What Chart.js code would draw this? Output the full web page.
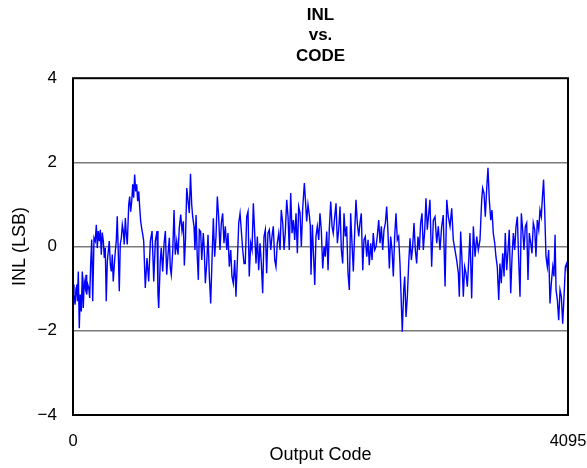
<!DOCTYPE html>
<html>
<head>
<meta charset="utf-8">
<script src="https://cdn.jsdelivr.net/npm/chart.js@4"></script>
<style>
html,body{margin:0;padding:0;background:#fff;}
#wrap{width:587px;height:468px;position:relative;}
</style>
</head>
<body>
<div id="wrap"><canvas id="c" width="587" height="468"></canvas></div>
<script>
const titleLines = ['INL', 'vs.', 'CODE'];
const xTitle = 'Output Code';
const yTitle = 'INL (LSB)';
const xTickValues = [0, 4095];
const yTickValues = [-4, -2, 0, 2, 4];
const gridValues = [-2, 0, 2];

const codes = [0,8,17,25,31,36,44,52,60,69,77,85,93,102,108,113,122,130,138,146,155,163,174,184,193,201,209,218,226,234,242,251,259,267,275,284,292,300,309,317,325,333,342,350,358,366,375,383,391,400,408,416,424,433,441,449,461,469,477,486,494,502,510,519,527,535,544,552,560,568,577,585,598,612,626,640,654,668,681,695,703,709,722,730,742,753,764,775,786,797,805,813,825,836,846,858,869,879,891,902,913,921,931,941,951,962,972,982,990,1001,1009,1018,1028,1037,1045,1056,1065,1078,1086,1095,1106,1117,1128,1139,1150,1161,1172,1183,1194,1205,1216,1227,1238,1249,1260,1272,1282,1293,1305,1315,1326,1338,1348,1359,1371,1382,1392,1404,1415,1425,1437,1448,1458,1470,1481,1492,1503,1514,1525,1536,1547,1558,1569,1580,1591,1602,1613,1624,1636,1646,1657,1669,1679,1690,1702,1713,1723,1735,1746,1756,1768,1779,1789,1801,1812,1823,1834,1845,1856,1867,1878,1889,1900,1914,1923,1933,1944,1955,1963,1969,1980,1988,2000,2010,2021,2033,2043,2054,2066,2077,2087,2099,2110,2120,2132,2143,2153,2165,2176,2187,2198,2209,2220,2231,2242,2253,2264,2275,2286,2297,2308,2319,2330,2341,2352,2364,2374,2385,2397,2407,2418,2430,2441,2451,2463,2474,2484,2496,2507,2517,2529,2540,2551,2562,2573,2584,2595,2606,2617,2628,2639,2650,2661,2672,2683,2694,2705,2716,2724,2736,2744,2755,2766,2777,2788,2799,2810,2821,2832,2843,2854,2865,2876,2887,2898,2910,2920,2931,2943,2953,2967,2981,2995,3009,3022,3036,3050,3063,3078,3092,3105,3119,3133,3146,3160,3174,3188,3196,3207,3218,3229,3240,3251,3262,3274,3284,3298,3312,3326,3340,3353,3367,3381,3389,3400,3411,3422,3433,3444,3456,3466,3477,3489,3499,3510,3522,3532,3543,3555,3566,3576,3588,3599,3609,3621,3632,3643,3654,3665,3676,3687,3698,3709,3720,3731,3742,3753,3764,3775,3787,3797,3808,3820,3830,3841,3853,3863,3874,3882,3893,3902,3913,3924,3935,3946,3957,3969,3979,3988,3996,4007,4018,4029,4040,4051,4062,4073,4084,4095];

const inl = [-0.90,-1.14,-1.38,-0.98,-0.90,-1.30,-0.59,-1.94,-1.14,-1.54,-0.59,-1.46,-0.83,-0.98,-0.67,-1.14,-0.90,-0.98,-1.22,-0.43,0.17,-1.30,0.21,0.13,0.52,-0.03,0.37,0.13,0.40,-0.19,0.33,0.13,-0.27,-0.03,-1.30,-0.35,-0.11,0.13,-0.43,-0.59,-0.19,-0.83,-0.43,-0.11,0.13,0.72,-0.19,-1.06,0.05,0.21,0.52,0.37,0.05,0.68,0.29,0.05,1.00,1.19,0.83,1.08,1.48,1.16,1.71,1.31,1.48,1.08,1.31,0.92,0.60,0.44,0.29,0.13,-0.98,-0.27,-0.83,0.13,0.37,-0.83,0.13,0.37,-1.14,-1.46,-0.35,-0.03,-0.59,0.05,0.37,-0.67,-0.19,0.21,-0.51,-0.67,-0.11,0.87,-0.19,0.13,-0.19,0.44,0.76,0.37,0.60,-0.45,0.21,1.39,1.10,0.80,1.73,1.00,0.71,0.48,-0.08,0.75,-0.24,-0.79,0.40,0.36,-0.32,0.32,-0.08,-0.87,-0.40,0.28,-0.71,-1.35,-0.32,0.67,-0.24,0.24,1.19,0.71,-0.08,0.56,0.79,0.08,0.48,-0.08,0.32,-0.48,-0.08,-0.71,-0.87,-0.32,-1.19,-0.40,0.56,0.79,0.40,-0.08,-0.40,-0.40,0.71,0.83,-0.71,0.08,-0.08,1.03,0.32,-0.40,0.24,-0.56,0.08,-0.40,-1.11,0.24,0.40,-0.63,0.32,0.40,-0.08,0.24,0.48,-0.32,-0.48,0.08,0.32,-0.08,0.87,0.56,-0.08,0.32,1.11,0.71,-0.08,1.27,0.32,0.63,0.16,0.79,-0.16,0.95,0.80,0.00,0.90,1.51,1.10,0.60,1.00,0.75,0.50,-0.67,0.52,-0.08,-0.91,0.24,0.48,0.16,0.79,0.40,-0.52,0.00,-0.24,0.36,-0.56,0.40,1.07,0.48,0.32,0.71,1.03,0.08,0.40,0.95,-0.08,-0.40,0.79,0.24,0.48,-0.63,-1.03,0.79,0.08,-0.59,0.32,1.11,0.56,0.24,0.56,0.79,-0.56,0.16,0.24,-0.24,0.16,-0.44,0.08,-0.32,0.32,-0.08,0.00,0.24,0.63,0.08,0.48,-0.08,0.40,0.56,0.95,0.32,-0.52,0.24,-0.08,-0.71,0.24,0.79,0.16,0.24,-0.40,-1.35,-2.02,-1.03,-0.71,-1.67,-1.19,-0.40,0.20,-0.32,0.00,0.56,-0.08,-0.40,0.24,-0.08,0.56,0.79,-0.08,0.40,1.15,0.40,0.79,1.11,-0.48,0.63,0.71,0.08,0.48,-0.08,0.48,0.75,-0.95,1.11,0.71,0.48,0.91,0.16,-0.08,-0.32,-0.63,-1.19,0.36,-0.32,-1.19,-0.48,-0.63,-0.95,-0.32,0.32,-1.23,0.48,-0.24,0.24,-0.08,0.16,1.11,1.39,1.27,0.71,1.35,1.87,1.11,0.63,0.87,0.32,0.08,-0.24,-0.48,-1.27,-0.40,-0.87,-0.16,-0.71,0.32,-0.56,-0.08,0.40,-1.11,-0.24,0.32,-0.08,0.48,0.71,-0.32,-1.19,0.79,0.40,-0.08,0.48,0.56,-0.79,0.32,0.08,-0.16,0.56,0.40,-0.24,0.63,0.40,0.87,0.71,1.11,1.59,0.87,-0.24,-0.48,-0.08,-1.35,-0.87,-0.48,-0.71,0.28,-1.03,-1.27,-1.75,-1.03,-1.19,-1.83,-1.19,-0.48,-0.40,-0.71];

const points = codes.map((c, i) => ({x: c, y: inl[i]}));

const framePlugin = {
  id: 'frame',
  afterDraw(chart) {
    const a = chart.chartArea, ctx = chart.ctx;
    ctx.save();
    ctx.strokeStyle = '#000';
    ctx.lineWidth = 2;
    ctx.strokeRect(a.left, a.top, a.right - a.left, a.bottom - a.top);
    ctx.restore();
  }
};

const FONT = "'Liberation Sans', Arial, Helvetica, sans-serif";

new Chart(document.getElementById('c'), {
  type: 'line',
  data: {
    datasets: [{
      data: points,
      borderColor: '#0000ff',
      borderWidth: 1.4,
      pointRadius: 0,
      tension: 0,
      fill: false
    }]
  },
  plugins: [framePlugin],
  options: {
    responsive: false,
    animation: false,
    layout: { padding: { left: 5, right: 19, top: 0, bottom: 0 } },
    plugins: {
      legend: { display: false },
      tooltip: { enabled: false },
      title: {
        display: true,
        fullSize: false,
        text: titleLines,
        color: '#000',
        font: { family: FONT, size: 17, weight: 'bold', lineHeight: 1.2 },
        padding: { top: 5, bottom: 12 }
      }
    },
    scales: {
      x: {
        type: 'linear',
        min: xTickValues[0],
        max: xTickValues[xTickValues.length - 1],
        afterBuildTicks: s => { s.ticks = xTickValues.map(v => ({ value: v })); },
        afterFit: s => { s.height = 53; s.paddingLeft = 0; s.paddingRight = 0; },
        grid: { display: false, drawTicks: false },
        border: { display: false },
        ticks: {
          autoSkip: false, maxRotation: 0, padding: 17, color: '#000',
          font: { family: FONT, size: 16.5 },
          callback: v => String(v)
        },
        title: {
          display: true, text: xTitle, color: '#000',
          font: { family: FONT, size: 18 }, padding: { top: 0, bottom: 2 }
        }
      },
      y: {
        min: yTickValues[0],
        max: yTickValues[yTickValues.length - 1],
        afterBuildTicks: s => { s.ticks = yTickValues.map(v => ({ value: v })); },
        afterFit: s => { s.width = 68; },
        grid: {
          drawTicks: false,
          color: ctx => gridValues.includes(ctx.tick && ctx.tick.value) ? '#7a7a7a' : 'rgba(0,0,0,0)',
          lineWidth: 1.5
        },
        border: { display: false },
        ticks: {
          padding: 16, color: '#000',
          font: { family: FONT, size: 17 },
          callback: v => String(v).replace('-', '\u2212')
        },
        title: {
          display: true, text: yTitle, color: '#000',
          font: { family: FONT, size: 18 }, padding: { top: 4, bottom: 0 }
        }
      }
    }
  }
});
</script>
</body>
</html>
